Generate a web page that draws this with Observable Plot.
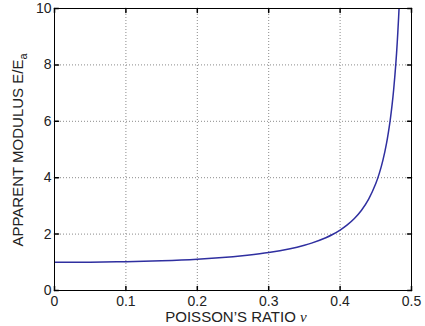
<!DOCTYPE html>
<html>
<head>
<meta charset="utf-8">
<script src="https://cdn.jsdelivr.net/npm/d3@7"></script>
<script src="https://cdn.jsdelivr.net/npm/@observablehq/plot@0.6"></script>
<style>
  html, body { margin: 0; padding: 0; background: #fff; }
  #chart svg { display: block; }
</style>
</head>
<body>
<div id="chart"></div>
<script>
// Data
const nu = [0, 0.05, 0.1, 0.15, 0.2, 0.25, 0.27, 0.3, 0.33, 0.35, 0.36, 0.38, 0.39, 0.4, 0.41, 0.42, 0.43, 0.44, 0.45, 0.455, 0.46, 0.465, 0.47, 0.473, 0.475, 0.478, 0.48, 0.482, 0.4827];
const modulus = [1, 1.005, 1.023, 1.056, 1.111, 1.2, 1.25, 1.346, 1.482, 1.605, 1.681, 1.872, 1.995, 2.143, 2.325, 2.553, 2.847, 3.241, 3.793, 4.162, 4.623, 5.217, 6.009, 6.625, 7.119, 8.027, 8.784, 9.709, 10.08];
const xTicks = [0, 0.1, 0.2, 0.3, 0.4, 0.5];
const yTicks = [0, 2, 4, 6, 8, 10];
const xTitle = "POISSON\u2019S RATIO ";
const xTitleSymbol = "\u03bd";
const yTitle = "APPARENT MODULUS E/E";
const yTitleSub = "a";

const data = nu.map((v, i) => ({nu: v, E: modulus[i]}));
const xGrid = xTicks.slice(1, -1);
const yGrid = yTicks.slice(1, -1);

const tickShape = {draw(c, l) { c.moveTo(0, 0); c.lineTo(0, -l); }};

const chart = Plot.plot({
  width: 425,
  height: 326,
  marginTop: 8,
  marginRight: 14,
  marginBottom: 36,
  marginLeft: 54,
  style: {fontFamily: "'Liberation Sans', Arial, sans-serif", fontSize: "14px", color: "#000", background: "#fff"},
  x: {domain: [0, 0.5]},
  y: {domain: [0, 10]},
  marks: [
    Plot.ruleX(xGrid, {x: d => d, stroke: "#8a8a8a", strokeDasharray: "1,2", strokeWidth: 1}),
    Plot.ruleY(yGrid, {y: d => d, stroke: "#8a8a8a", strokeDasharray: "1,2", strokeWidth: 1}),
    Plot.line(data, {x: "nu", y: "E", stroke: "#2f2fa0", strokeWidth: 1.5, curve: "catmull-rom", clip: true}),
    // inward tick marks on all four sides
    Plot.vector(xTicks, {x: d => d, y: 0, length: 4, rotate: 0, anchor: "start", stroke: "#000", shape: tickShape}),
    Plot.vector(xTicks, {x: d => d, y: 10, length: 4, rotate: 180, anchor: "start", stroke: "#000", shape: tickShape}),
    Plot.vector(yTicks, {x: 0, y: d => d, length: 4, rotate: 90, anchor: "start", stroke: "#000", shape: tickShape}),
    Plot.vector(yTicks, {x: 0.5, y: d => d, length: 4, rotate: -90, anchor: "start", stroke: "#000", shape: tickShape}),
    Plot.frame({stroke: "#000", strokeWidth: 1}),
    Plot.axisX(xTicks, {tickSize: 0, tickPadding: 6, tickFormat: d => String(d), fill: "#222", label: null}),
    Plot.axisY(yTicks, {tickSize: 0, tickPadding: 3, tickFormat: d => String(d), fill: "#222", label: null})
  ]
});

const svg = d3.select(chart);
const xt = svg.append("text")
  .attr("x", 236).attr("y", 322)
  .attr("text-anchor", "middle")
  .attr("fill", "#222")
  .style("font-size", "15px");
xt.append("tspan").text(xTitle);
xt.append("tspan").text(xTitleSymbol)
  .style("font-family", "'Liberation Serif', 'DejaVu Serif', serif")
  .style("font-style", "italic");

const yt = svg.append("text")
  .attr("transform", "translate(23,150) rotate(-90)")
  .attr("text-anchor", "middle")
  .attr("fill", "#222")
  .style("font-size", "15px");
yt.append("tspan").text(yTitle);
yt.append("tspan").text(yTitleSub).attr("dy", 4).style("font-size", "11px");

document.getElementById("chart").appendChild(chart);
</script>
</body>
</html>
